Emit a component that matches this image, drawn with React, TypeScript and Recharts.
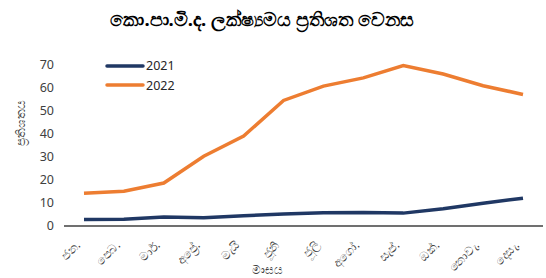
import React from "react";
import { LineChart, Line, XAxis, YAxis, Label } from "recharts";

const months = ["ජන.", "පෙබ.", "මාර්.", "අප්‍රේ.", "මැයි", "ජූනි", "ජූලි", "අගෝ.", "සැප්.", "ඔක්.", "නොවැ.", "දෙසැ."];
const series2021 = [2.8, 2.9, 3.9, 3.6, 4.5, 5.2, 5.8, 5.9, 5.6, 7.5, 9.9, 12.1];
const series2022 = [14.2, 15.1, 18.7, 30.3, 39.1, 54.6, 60.8, 64.4, 69.8, 66.1, 61.0, 57.2];
const yTicks = [0, 10, 20, 30, 40, 50, 60, 70];
const title = "කො.පා.මි.ද. ලක්ෂ්‍යමය ප්‍රතිශත වෙනස";
const yLabel = "ප්‍රතිශතය";
const xLabel = "මාසය";
const legendItems = [
  { name: "2021", color: "#203864" },
  { name: "2022", color: "#ED7D31" },
];

const data = months.map((m, i) => ({ month: m, y2021: series2021[i], y2022: series2022[i] }));

const FONT = "'Noto Sans', 'Open Sans', sans-serif";

const XTick = (props: any) => {
  const { x, y, payload } = props;
  const ax = x - 3;
  const ay = y + 12;
  return (
    <text
      x={ax}
      y={ay}
      transform={`rotate(-45, ${ax}, ${ay})`}
      textAnchor="end"
      fontSize={12}
      fill="#404040"
      fontFamily={FONT}
    >
      {payload.value}
    </text>
  );
};

export default function App() {
  return (
    <div style={{ position: "absolute", left: 0, top: 0, width: 546, height: 278, background: "#fff", overflow: "hidden" }}>
      <div
        style={{
          position: "absolute",
          left: 0,
          top: 6,
          width: 524,
          textAlign: "center",
          fontFamily: FONT,
          fontWeight: "bold",
          fontSize: 18.5,
          color: "#000",
        }}
      >
        {title}
      </div>
      <div
        style={{ position: "absolute", left: 104, top: 56, fontFamily: FONT, fontSize: 12.5, color: "#262626", zIndex: 2 }}
      >
        {legendItems.map((s) => (
          <div key={s.name} style={{ display: "flex", alignItems: "center", height: 19.5 }}>
            <svg width={41} height={6}>
              <line x1={3} y1={3} x2={39} y2={3} stroke={s.color} strokeWidth={3.5} strokeLinecap="round" />
            </svg>
            <span style={{ marginLeft: 1 }}>{s.name}</span>
          </div>
        ))}
      </div>
      <LineChart width={546} height={278} data={data} margin={{ top: 65, right: 3, left: 0, bottom: 0 }}>
        <XAxis
          dataKey="month"
          interval={0}
          tickLine={false}
          axisLine={{ stroke: "#404040", strokeWidth: 1.5 }}
          tick={<XTick />}
          height={52}
          padding={{ left: 20, right: 20 }}
        >
          <Label value={xLabel} position="insideBottom" offset={4} dx={-36} fontSize={12} fill="#404040" fontFamily={FONT} />
        </XAxis>
        <YAxis
          domain={[0, 70]}
          ticks={yTicks}
          width={64}
          axisLine={false}
          tickLine={false}
          tick={{ fontSize: 12.5, fill: "#404040", fontFamily: FONT }}
          tickMargin={4}
        >
          <Label value={yLabel} angle={-90} position="insideLeft" offset={21} fontSize={12} fill="#404040" fontFamily={FONT} />
        </YAxis>
        <Line dataKey="y2021" name="2021" stroke="#203864" strokeWidth={3.5} dot={false} isAnimationActive={false} />
        <Line dataKey="y2022" name="2022" stroke="#ED7D31" strokeWidth={3.5} dot={false} isAnimationActive={false} />
      </LineChart>
    </div>
  );
}
